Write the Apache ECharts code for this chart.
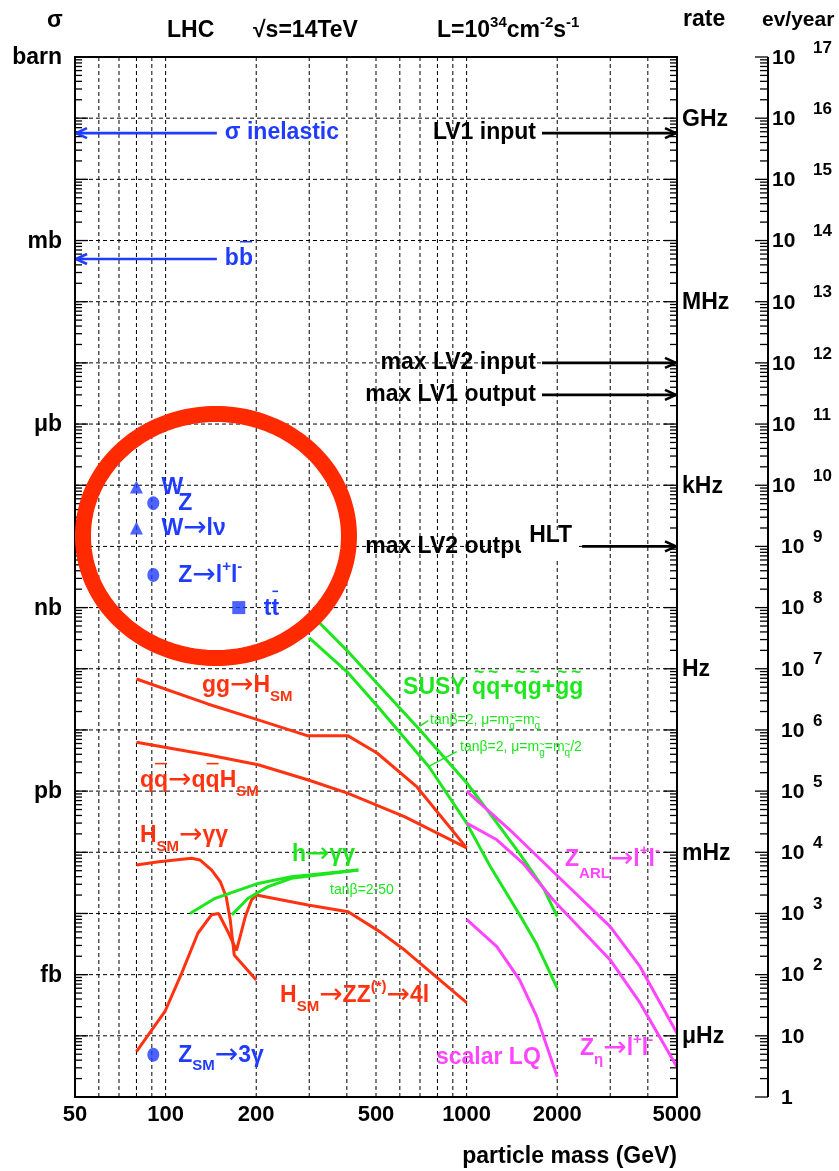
<!DOCTYPE html>
<html>
<head>
<meta charset="utf-8">
<title>LHC cross sections and rates</title>
<script src="https://cdn.jsdelivr.net/npm/echarts@6.0.0/dist/echarts.min.js"></script>
<style>
  html, body { margin: 0; padding: 0; background: #fff; }
  #chart { width: 839px; height: 1171px; }
</style>
</head>
<body>
<div id="chart"></div>
<script>
// ---------------- axis values ----------------
const massTicks = [50, 100, 200, 500, 1000, 2000, 5000];                 // GeV
const massGrid = [60, 70, 80, 90, 100, 200, 300, 400, 500, 600, 700, 800, 900, 1000, 2000, 3000, 4000];
const xsecUnitLabels = ['barn', 'mb', '\u03bcb', 'nb', 'pb', 'fb'];
const xsecUnitValues = [1, 1e-3, 1e-6, 1e-9, 1e-12, 1e-15];               // barn
const rateUnitLabels = ['GHz', 'MHz', 'kHz', 'Hz', 'mHz', '\u03bcHz'];
const rateUnitValues = [1e9, 1e6, 1e3, 1, 1e-3, 1e-6];                      // Hz
const eventExponents = [17, 16, 15, 14, 13, 12, 11, 10, 9, 8, 7, 6, 5, 4, 3, 2, 1, 0];

// luminosity 1e34 cm^-2 s^-1, one year = 1e7 s, 1 barn = 1e-24 cm^2
const LUMI = 1e34, BARN_CM2 = 1e-24, YEAR_S = 1e7;
const xsecFromRate = r => r / (LUMI * BARN_CM2);
const xsecFromEvents = n => n / (LUMI * BARN_CM2 * YEAR_S);

// ---------------- cross sections [mass GeV, sigma barn] ----------------
const ggH = [[80, 6.8e-11], [138, 2.66e-11], [203, 1.46e-11], [297, 8.0e-12], [404, 8.0e-12], [504, 4.2e-12], [684, 1.17e-12], [1000, 1.18e-13]];
const qqH = [[80, 6.3e-12], [139, 3.9e-12], [203, 2.7e-12], [298, 1.52e-12], [404, 9.2e-13], [624, 3.8e-13], [1000, 1.18e-13]];
const hSMtoGG = [[80, 6.2e-14], [95, 7.0e-14], [122, 8.0e-14], [130, 7.5e-14], [142, 5.15e-14], [152, 3.3e-14], [159, 1.86e-14], [164, 7.8e-15], [169, 2.1e-15], [200, 8.2e-16]];
const hSMtoZZ = [[80, 5.5e-17], [99.5, 2.5e-16], [113, 1.05e-15], [128, 4.75e-15], [142, 9.5e-15], [150, 1.0e-14], [162, 4.75e-15], [172, 2.5e-15], [184, 8.9e-15], [193, 1.66e-14], [200, 2.0e-14], [297, 1.38e-14], [404, 1.07e-14], [516, 5.0e-15], [624, 2.5e-15], [700, 1.54e-15], [1000, 3.5e-16]];
const hToGG_a = [[120.5, 1.0e-14], [146, 1.77e-14], [203, 3.1e-14], [262, 4.0e-14], [437, 5.15e-14]];
const hToGG_b = [[166, 9.5e-15], [188, 1.77e-14], [219, 2.75e-14], [262, 3.76e-14], [437, 5.15e-14]];
const susyEqual = [[300, 8.3e-10], [400, 2.0e-10], [500, 6.0e-11], [700, 1.0e-11], [1000, 1.37e-12], [1250, 3.2e-13], [1500, 9.5e-14], [1800, 2.6e-14], [2000, 8.9e-15]];
const susyHalf = [[300, 3.2e-10], [400, 9.0e-11], [500, 2.6e-11], [750, 2.5e-12], [1000, 3.0e-13], [1200, 5.8e-14], [1500, 9.5e-15], [1700, 3.3e-15], [2000, 6.0e-16]];
const zARL = [[1000, 1.0e-12], [1430, 2.05e-13], [2120, 3.15e-14], [3000, 6.1e-15], [3770, 1.35e-15], [5000, 1.1e-16]];
const zEta = [[1000, 3.0e-13], [1260, 1.6e-13], [1540, 6.6e-14], [1940, 1.66e-14], [3000, 1.74e-15], [3770, 3.45e-16], [5000, 3.1e-17]];
const scalarLQ = [[1000, 8.0e-15], [1260, 2.87e-15], [1500, 8.2e-16], [1710, 2.06e-16], [2000, 2.15e-17]];

// single processes
const wTotal = [80, 9.4e-8];
const zTotal = [91, 5.1e-8];
const wLeptonic = [80, 2.0e-8];
const zLeptonic = [91, 3.4e-9];
const topPair = [175, 1.0e-9];
const zThreeGamma = [91, 4.9e-17];

// reference levels (left: cross sections in barn, right: trigger rates in Hz)
const beamLabels = ['\u03c3 inelastic', 'bb'];
const beamXsec = [0.057, 5e-4];
const triggerLabels = ['LV1 input', 'max LV2 input', 'max LV1 output'];
const triggerRates = [5.7e8, 1e5, 3e4];
const hltRate = 100;

// ---------------- styling ----------------
const BLUE = '#1f3cff', RED = '#ff3311', GREEN = '#1ee61e', MAGENTA = '#ff45ff', RING = '#ff2a00';
const FAMILY = '"Liberation Sans", Arial, Helvetica, sans-serif';
const ARROW_FAMILY = '"DejaVu Sans", sans-serif';
const fontOf = (size, weight, family) => (weight || 'bold') + ' ' + size + 'px ' + (family || FAMILY);
const measureCtx = document.createElement('canvas').getContext('2d');
function textWidth(t, font) { measureCtx.font = font; return measureCtx.measureText(t).width; }

const chart = echarts.init(document.getElementById('chart'), null, { renderer: 'canvas' });

function curve(data, color) {
  return { type: 'line', data, symbol: 'none', silent: true, z: 3, lineStyle: { color, width: 3 }, animation: false };
}
function dot(value, symbol, size) {
  return { type: 'scatter', data: [value], symbol, symbolSize: size, silent: true, z: 4, itemStyle: { color: BLUE } };
}

const hiddenAxis = {
  axisLine: { show: false }, axisTick: { show: false }, axisLabel: { show: false },
  splitLine: { show: false }, minorTick: { show: false }
};

chart.setOption({
  animation: false,
  backgroundColor: '#ffffff',
  grid: { left: 75, top: 57, width: 602, height: 1040, containLabel: false, outerBoundsMode: 'none' },
  xAxis: Object.assign({ type: 'log', logBase: 10, min: 50, max: 5000 }, hiddenAxis),
  yAxis: Object.assign({ type: 'log', logBase: 10, min: 1e-17, max: 1 }, hiddenAxis),
  series: [
    curve(ggH, RED), curve(qqH, RED), curve(hSMtoGG, RED), curve(hSMtoZZ, RED),
    curve(hToGG_a, GREEN), curve(hToGG_b, GREEN), curve(susyEqual, GREEN), curve(susyHalf, GREEN),
    curve(zARL, MAGENTA), curve(zEta, MAGENTA), curve(scalarLQ, MAGENTA),
    dot(wTotal, 'triangle', 13), dot(zTotal, 'circle', [12, 14]), dot(wLeptonic, 'triangle', 13),
    dot(zLeptonic, 'circle', [12, 14]), dot(topPair, 'rect', 13), dot(zThreeGamma, 'circle', [12, 14])
  ]
});

const px = (m, s) => chart.convertToPixel({ gridIndex: 0 }, [m, s]);
const els = [];

function textEl(x, y, text, font, color, align, z) {
  return {
    type: 'text', x, y, z: z || 6, silent: true,
    style: { text, font, fill: color, align: align || 'left', textAlign: align || 'left',
             verticalAlign: 'middle', textVerticalAlign: 'middle' }
  };
}
function lineEl(x1, y1, x2, y2, color, width, z, dash) {
  const style = { stroke: color, lineWidth: width };
  if (dash) style.lineDash = dash;
  return { type: 'line', z: z || 2, silent: true, shape: { x1, y1, x2, y2 }, style };
}

// text made of segments: '' plain, 'sub', 'sup', 'bar' (overline), 'tilde', 'subtilde'
// arrows inside a segment are set in a thin, slightly larger face
const S = (t, k) => [t, k || ''];
function richText(x, y, segs, o) {
  o = o || {};
  const size = o.size || 23, weight = o.weight || 'bold', color = o.color || '#000', z = o.z || 6;
  const small = o.small || Math.round(size * 0.66);
  const subDy = o.subDy != null ? o.subDy : size * 0.46;
  const supDy = o.supDy != null ? o.supDy : -size * 0.4;
  const parts = [];
  segs.forEach(([t, k]) => {
    const isSmall = k === 'sub' || k === 'sup' || k === 'subtilde';
    const fs = isSmall ? small : size;
    t.split(/(\u2192)/).filter(p => p.length).forEach(piece => {
      const f = piece === '\u2192' ? fontOf(Math.round(fs * 1.2), 'normal', ARROW_FAMILY) : fontOf(fs, weight);
      parts.push({ t: piece, k, f, w: textWidth(piece, f) });
    });
  });
  const total = parts.reduce((a, p) => a + p.w, 0);
  let cx = o.align === 'right' ? x - total : x;
  const out = [];
  parts.forEach(p => {
    let dy = 0;
    if (p.k === 'sub' || p.k === 'subtilde') dy = subDy;
    if (p.k === 'sup') dy = supDy;
    out.push(textEl(cx, y + dy, p.t, p.f, color, 'left', z));
    if (p.k === 'bar') out.push(lineEl(cx + 1, y - size * 0.75, cx + p.w - 1, y - size * 0.75, color, 1.6, z));
    if (p.k === 'tilde') out.push(textEl(cx + p.w / 2, y - size * 0.7, '~', fontOf(Math.round(size * 0.75), 'bold'), color, 'center', z));
    if (p.k === 'subtilde') out.push(textEl(cx + p.w / 2, y + dy - small * 0.8, '~', fontOf(Math.round(small * 0.95), 'normal'), color, 'center', z));
    cx += p.w;
  });
  out.forEach(e => els.push(e));
  return { left: o.align === 'right' ? x - total : x, right: cx, width: total };
}

// ---------------- frame geometry from the axes ----------------
const [X0, Y0] = px(50, 1);
const [X1, Y1] = px(5000, 1e-17);
const XR = X1 + 91;                      // events-per-year scale

// dashed grid
massGrid.forEach(m => { const x = px(m, 1)[0]; els.push(lineEl(x, Y0, x, Y1, '#000', 1, 1, [4, 3])); });
for (let e = -1; e >= -16; e--) { const y = px(50, Math.pow(10, e))[1]; els.push(lineEl(X0, y, X1, y, '#000', 1, 1, [4, 3])); }

// log ticks on frame sides and on the events scale
for (let e = 0; e >= -17; e--) {
  for (let k = 1; k <= 9; k++) {
    const v = k * Math.pow(10, e);
    if (v > 1 || v < 1e-17) continue;
    const y = px(50, v)[1];
    const major = k === 1;
    els.push(lineEl(X0, y, X0 + (major ? 13 : 7), y, '#000', 1.3, 2));
    els.push(lineEl(X1 - (major ? 13 : 7), y, X1, y, '#000', 1.3, 2));
    els.push(lineEl(XR - (major ? 13 : 8), y, XR, y, '#000', 1.3, 2));
  }
}
// frame and the events scale line
els.push({ type: 'rect', z: 7, silent: true, shape: { x: X0, y: Y0, width: X1 - X0, height: Y1 - Y0 }, style: { fill: 'none', stroke: '#000', lineWidth: 2 } });
els.push(lineEl(XR, Y0, XR, Y1, '#000', 2, 7));

// ---------------- axis texts ----------------
const F = fontOf(22, 'bold');
massTicks.forEach(m => els.push(textEl(px(m, 1e-17)[0], Y1 + 18, String(m), F, '#000', 'center')));
els.push(textEl(X1, Y1 + 60, 'particle mass (GeV)', fontOf(23), '#000', 'right'));

xsecUnitLabels.forEach((t, i) => els.push(textEl(62, px(50, xsecUnitValues[i])[1] + 1, t, fontOf(23), '#000', 'right')));
rateUnitLabels.forEach((t, i) => els.push(textEl(X1 + 5, px(50, xsecFromRate(rateUnitValues[i]))[1] + 1, t, fontOf(23), '#000', 'left')));

eventExponents.forEach(n => {
  const y = px(50, xsecFromEvents(Math.pow(10, n)))[1] + 1;
  if (n >= 10) {
    els.push(textEl(XR + 4, y, '10', fontOf(21), '#000', 'left'));
    els.push(textEl(XR + 45, y - 10, String(n), fontOf(17), '#000', 'left'));
  } else if (n >= 2) {
    els.push(textEl(XR + 13, y, '10', fontOf(21), '#000', 'left'));
    els.push(textEl(XR + 45, y - 10, String(n), fontOf(17), '#000', 'left'));
  } else {
    els.push(textEl(XR + 13, y, n === 1 ? '10' : '1', fontOf(21), '#000', 'left'));
  }
});

// header
els.push(textEl(47, 21, '\u03c3', fontOf(23), '#000', 'left'));
els.push(textEl(167, 31, 'LHC', fontOf(23), '#000', 'left'));
els.push(textEl(253, 31, '\u221as=14TeV', fontOf(23), '#000', 'left'));
richText(437, 31, [S('L=10'), S('34', 'sup'), S('cm'), S('-2', 'sup'), S('s'), S('-1', 'sup')], { size: 23, small: 15, supDy: -8 });
els.push(textEl(683, 20, 'rate', fontOf(23), '#000', 'left'));
els.push(textEl(762, 20, 'ev/year', fontOf(21), '#000', 'left'));

// ---------------- reference arrows ----------------
function arrow(xFrom, xTo, y, color) {
  const dir = xTo > xFrom ? 1 : -1;
  els.push(lineEl(xFrom, y, xTo, y, color, 2.6, 5));
  els.push(lineEl(xTo, y, xTo - dir * 11, y - 5, color, 2.6, 5));
  els.push(lineEl(xTo, y, xTo - dir * 11, y + 5, color, 2.6, 5));
}
const leftTail = 148, rightTail = 1780, hltTail = 2420;
beamXsec.forEach((s, i) => {
  const [xa, y] = px(leftTail, s);
  arrow(xa, X0 + 1, y, BLUE);
  if (i === 0) els.push(textEl(xa + 8, y, beamLabels[0], fontOf(23), BLUE, 'left'));
  else richText(xa + 8, y, [S('b'), S('b', 'bar')], { color: BLUE });
});
triggerRates.forEach((r, i) => {
  const [xa, y] = px(rightTail, xsecFromRate(r));
  arrow(xa, X1 - 1, y, '#000');
  els.push(textEl(xa - 6, y, triggerLabels[i], fontOf(23), '#000', 'right'));
});
{
  const [xh, y] = px(hltTail, xsecFromRate(hltRate));
  const xo = px(rightTail, 1)[0];
  els.push(textEl(xo - 6, y, 'max LV2 output', fontOf(23), '#000', 'right', 5));
  arrow(xh, X1 - 1, y, '#000');
  const w = textWidth('HLT', fontOf(23));
  els.push({ type: 'rect', z: 6, silent: true, shape: { x: xh - 10 - w - 8, y: y - 16, width: w + 14, height: 30 }, style: { fill: '#fff', stroke: 'none' } });
  els.push(textEl(xh - 10, y - 11, 'HLT', fontOf(23), '#000', 'right', 7));
}

// ---------------- labels ----------------
const pointLabels = [
  [wTotal, [S('W')]],
  [zTotal, [S('Z')]],
  [wLeptonic, [S('W\u2192l\u03bd')]],
  [zLeptonic, [S('Z\u2192l'), S('+', 'sup'), S('l'), S('-', 'sup')]],
  [topPair, [S('t'), S('t', 'bar')]],
  [zThreeGamma, [S('Z'), S('SM', 'sub'), S('\u21923\u03b3')]]
];
pointLabels.forEach(([p, segs]) => { const [x, y] = px(p[0], p[1]); richText(x + 25, y + 1, segs, { color: BLUE, small: 15 }); });

const curveLabels = [
  { at: [132, 5.24e-11], color: RED, segs: [S('gg\u2192H'), S('SM', 'sub')] },
  { at: [82.2, 1.47e-12], color: RED, segs: [S('q'), S('q', 'bar'), S('\u2192q'), S('q', 'bar'), S('H'), S('SM', 'sub')] },
  { at: [82.2, 1.85e-13], color: RED, segs: [S('H'), S('SM', 'sub'), S('\u2192\u03b3\u03b3')] },
  { at: [240, 4.49e-16], color: RED, segs: [S('H'), S('SM', 'sub'), S('\u2192ZZ'), S('(*)', 'sup'), S('\u21924l')] },
  { at: [263, 9.05e-14], color: GREEN, segs: [S('h\u2192\u03b3\u03b3')] },
  { at: [352, 2.42e-14], color: GREEN, size: 14, weight: 'normal', segs: [S('tan\u03b2=2-50')] },
  { at: [615, 4.85e-11], color: GREEN, segs: [S('SUSY '), S('q', 'tilde'), S('q', 'tilde'), S('+'), S('q', 'tilde'), S('g', 'tilde'), S('+'), S('g', 'tilde'), S('g', 'tilde')] },
  { at: [756, 1.46e-11], color: GREEN, size: 14, weight: 'normal', small: 10, segs: [S('tan\u03b2=2, \u03bc=m'), S('g', 'subtilde'), S('=m'), S('q', 'subtilde')] },
  { at: [951, 5.27e-12], color: GREEN, size: 14, weight: 'normal', small: 10, segs: [S('tan\u03b2=2, \u03bc=m'), S('g', 'subtilde'), S('=m'), S('q', 'subtilde'), S('/2')] },
  { at: [2123, 7.5e-14], color: MAGENTA, subDy: 14, segs: [S('Z'), S('ARL', 'sub'), S('\u2192l'), S('+', 'sup'), S('l'), S('-', 'sup')] },
  { at: [2381, 6.1e-17], color: MAGENTA, segs: [S('Z'), S('\u03b7', 'sub'), S('\u2192l'), S('+', 'sup'), S('l'), S('-', 'sup')] },
  { at: [791, 4.35e-17], color: MAGENTA, segs: [S('scalar LQ')] }
];
curveLabels.forEach(l => {
  const [x, y] = px(l.at[0], l.at[1]);
  richText(x, y, l.segs, { color: l.color, size: l.size || 23, weight: l.weight, small: l.small || 15, subDy: l.subDy });
});

// leader lines from the small SUSY labels to their curves
const leaders = [[[700, 1.16e-11], [746, 1.42e-11]], [[746, 2.51e-12], [927, 4.42e-12]]];
leaders.forEach(([a, b]) => { const p = px(a[0], a[1]), q = px(b[0], b[1]); els.push(lineEl(p[0], p[1], q[0], q[1], GREEN, 1.5, 5)); });

// highlight ring around the electroweak and top processes
{
  const [cx, cy] = px(147, 1.48e-8);
  const pts = [];
  for (let i = 0; i < 180; i++) { const a = i / 180 * Math.PI * 2; pts.push([cx + 133 * Math.cos(a), cy + 122 * Math.sin(a)]); }
  els.push({ type: 'polygon', z: 20, silent: true, shape: { points: pts }, style: { fill: 'none', stroke: RING, lineWidth: 16 } });
}

chart.setOption({ graphic: { elements: els } });
</script>
</body>
</html>
